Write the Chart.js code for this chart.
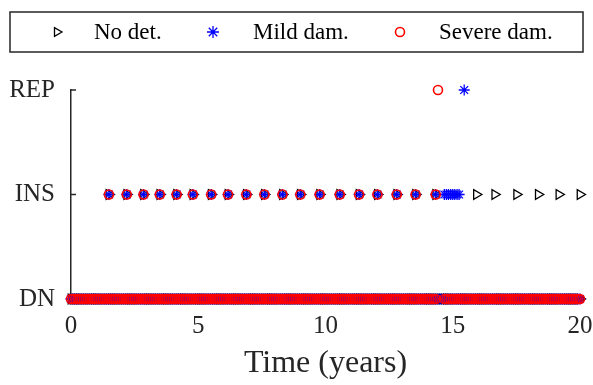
<!DOCTYPE html>
<html><head><meta charset="utf-8">
<script src="https://cdn.jsdelivr.net/npm/chart.js@4.4.1/dist/chart.umd.min.js"></script>
<style>html,body{margin:0;padding:0;background:#fff;}#wrap{width:593px;height:385px;position:relative;}</style>
</head><body><div id="wrap"><canvas id="c" width="593" height="385"></canvas></div>
<script>
// ---- data ----
const seriesNames = ['No det.', 'Mild dam.', 'Severe dam.'];
const yTickLabels = ['DN', 'INS', 'REP'];
const xTickValues = [0, 5, 10, 15, 20];
const xTitle = 'Time (years)';
// monthly time steps at the DN (do nothing) level
const dnMonths = [0,1,2,3,4,5,6,7,8,9,10,11,12,13,14,15,16,17,18,19,20,21,22,23,24,25,26,27,28,29,30,31,32,33,34,35,36,37,38,39,40,41,42,43,44,45,46,47,48,49,50,51,52,53,54,55,56,57,58,59,60,61,62,63,64,65,66,67,68,69,70,71,72,73,74,75,76,77,78,79,80,81,82,83,84,85,86,87,88,89,90,91,92,93,94,95,96,97,98,99,100,101,102,103,104,105,106,107,108,109,110,111,112,113,114,115,116,117,118,119,120,121,122,123,124,125,126,127,128,129,130,131,132,133,134,135,136,137,138,139,140,141,142,143,144,145,146,147,148,149,150,151,152,153,154,155,156,157,158,159,160,161,162,163,164,165,166,167,168,169,170,171,172,173,174,175,176,177,178,179,180,181,182,183,184,185,186,187,188,189,190,191,192,193,194,195,196,197,198,199,200,201,202,203,204,205,206,207,208,209,210,211,212,213,214,215,216,217,218,219,220,221,222,223,224,225,226,227,228,229,230,231,232,233,234,235,236,237,238,239,240];
const severeMissingDnMonths = [173, 174, 175];
// inspections where all three states are plotted (years)
const insAllTimes = [1.49, 2.19, 2.85, 3.49, 4.15, 4.79, 5.51, 6.17, 6.89, 7.60, 8.31, 9.01, 9.77, 10.56, 11.32, 12.04, 12.80, 13.54, 14.33];
const insMildTimes = [14.67, 14.75, 14.83, 14.92, 15.00, 15.08, 15.17, 15.25];
const insNoDetTimes = [15.93, 16.65, 17.51, 18.36, 19.17, 20.00];
const repSevereTimes = [14.42];
const repMildTimes = [15.45];
const levelDN = 0, levelINS = 1, levelREP = 2;

// ---- build datasets ----
const dnYears = dnMonths.map(m => m / 12);
const pts = (times, lvl) => times.map(t => ({x: t, y: lvl}));
const noDetData = [].concat(pts(dnYears, levelDN), pts(insAllTimes, levelINS), pts(insNoDetTimes, levelINS));
const mildData = [].concat(pts(dnYears, levelDN), pts(insAllTimes, levelINS), pts(insMildTimes, levelINS), pts(repMildTimes, levelREP));
const severeDnYears = dnMonths.filter(m => !severeMissingDnMonths.includes(m)).map(m => m / 12);
const severeData = [].concat(pts(severeDnYears, levelDN), pts(insAllTimes, levelINS), pts(repSevereTimes, levelREP));

const FONT = "'Liberation Serif', 'Times New Roman', serif";
const AX = '#262626';
const styles = [
  {style: 'triangle', rot: 90, r: 5.5, color: '#000000', legR: 5, bw: 1.3},
  {style: 'star', rot: 0, r: 5.5, color: '#0000ff', legR: 6, bw: 1.3},
  {style: 'circle', rot: 0, r: 4.5, color: '#ff0000', legR: 4.5, bw: 1.6}
];

const inwardTicks = {
  id: 'inwardTicks',
  beforeDatasetsDraw(chart) {
    const {ctx, chartArea: a, scales: {x, y}} = chart;
    ctx.save();
    ctx.strokeStyle = AX; ctx.lineWidth = 1.5;
    y.ticks.forEach(t => { const py = y.getPixelForValue(t.value); ctx.beginPath(); ctx.moveTo(a.left, py); ctx.lineTo(a.left + 5, py); ctx.stroke(); });
    x.ticks.forEach(t => { const px = x.getPixelForValue(t.value); ctx.beginPath(); ctx.moveTo(px, a.bottom); ctx.lineTo(px, a.bottom - 5); ctx.stroke(); });
    ctx.restore();
  }
};

const boxLegend = {
  id: 'boxLegend',
  afterDraw(chart) {
    const ctx = chart.ctx;
    ctx.save();
    ctx.strokeStyle = AX; ctx.lineWidth = 1.5;
    ctx.strokeRect(10, 12, 573, 40);
    const markerX = [57, 213, 400];
    const textX = [94, 253, 439];
    const cy = 32;
    ctx.font = '23px ' + FONT;
    ctx.textBaseline = 'middle';
    ctx.textAlign = 'left';
    seriesNames.forEach((n, i) => {
      const s = styles[i];
      ctx.strokeStyle = s.color; ctx.fillStyle = 'rgba(0,0,0,0)'; ctx.lineWidth = s.bw;
      Chart.helpers.drawPoint(ctx, {pointStyle: s.style, rotation: s.rot, radius: s.legR, borderWidth: s.bw}, markerX[i], cy);
      ctx.fillStyle = '#000';
      ctx.fillText(n, textX[i], cy + 1);
    });
    ctx.restore();
  }
};

const mk = (label, data, s) => ({
  label, data,
  pointStyle: s.style, rotation: s.rot, pointRadius: s.r, pointHoverRadius: s.r,
  borderColor: s.color, backgroundColor: 'rgba(0,0,0,0)', pointBorderWidth: s.bw,
  showLine: false, clip: false
});

new Chart(document.getElementById('c'), {
  type: 'scatter',
  data: {
    datasets: [
      mk(seriesNames[2], severeData, styles[2]),
      mk(seriesNames[1], mildData, styles[1]),
      mk(seriesNames[0], noDetData, styles[0])
    ]
  },
  options: {
    responsive: false, animation: false, devicePixelRatio: 1,
    layout: {padding: {top: 90, right: 0, left: 0, bottom: 0}},
    plugins: {legend: {display: false}, tooltip: {enabled: false}},
    scales: {
      x: {
        type: 'linear', min: xTickValues[0], max: xTickValues[xTickValues.length - 1],
        afterBuildTicks: sc => { sc.ticks = xTickValues.map(v => ({value: v})); },
        ticks: {font: {family: FONT, size: 25}, color: AX, padding: 12, maxRotation: 0},
        grid: {display: false, drawTicks: false},
        border: {display: true, color: AX, width: 1.5},
        title: {display: true, text: xTitle, font: {family: FONT, size: 32}, color: AX, padding: {top: 0, bottom: 2}},
        afterFit: sc => { sc.height = 86; sc.paddingRight = 13; sc.paddingLeft = 0; }
      },
      y: {
        type: 'linear', min: levelDN, max: levelREP,
        afterBuildTicks: sc => { sc.ticks = [levelDN, levelINS, levelREP].map(v => ({value: v})); },
        ticks: {font: {family: FONT, size: 25}, color: AX, padding: 16, callback: v => yTickLabels[v]},
        grid: {display: false, drawTicks: false},
        border: {display: true, color: AX, width: 1.5},
        afterFit: sc => { sc.width = 71; sc.paddingTop = 0; sc.paddingBottom = 0; }
      }
    }
  },
  plugins: [inwardTicks, boxLegend]
});
</script></body></html>
